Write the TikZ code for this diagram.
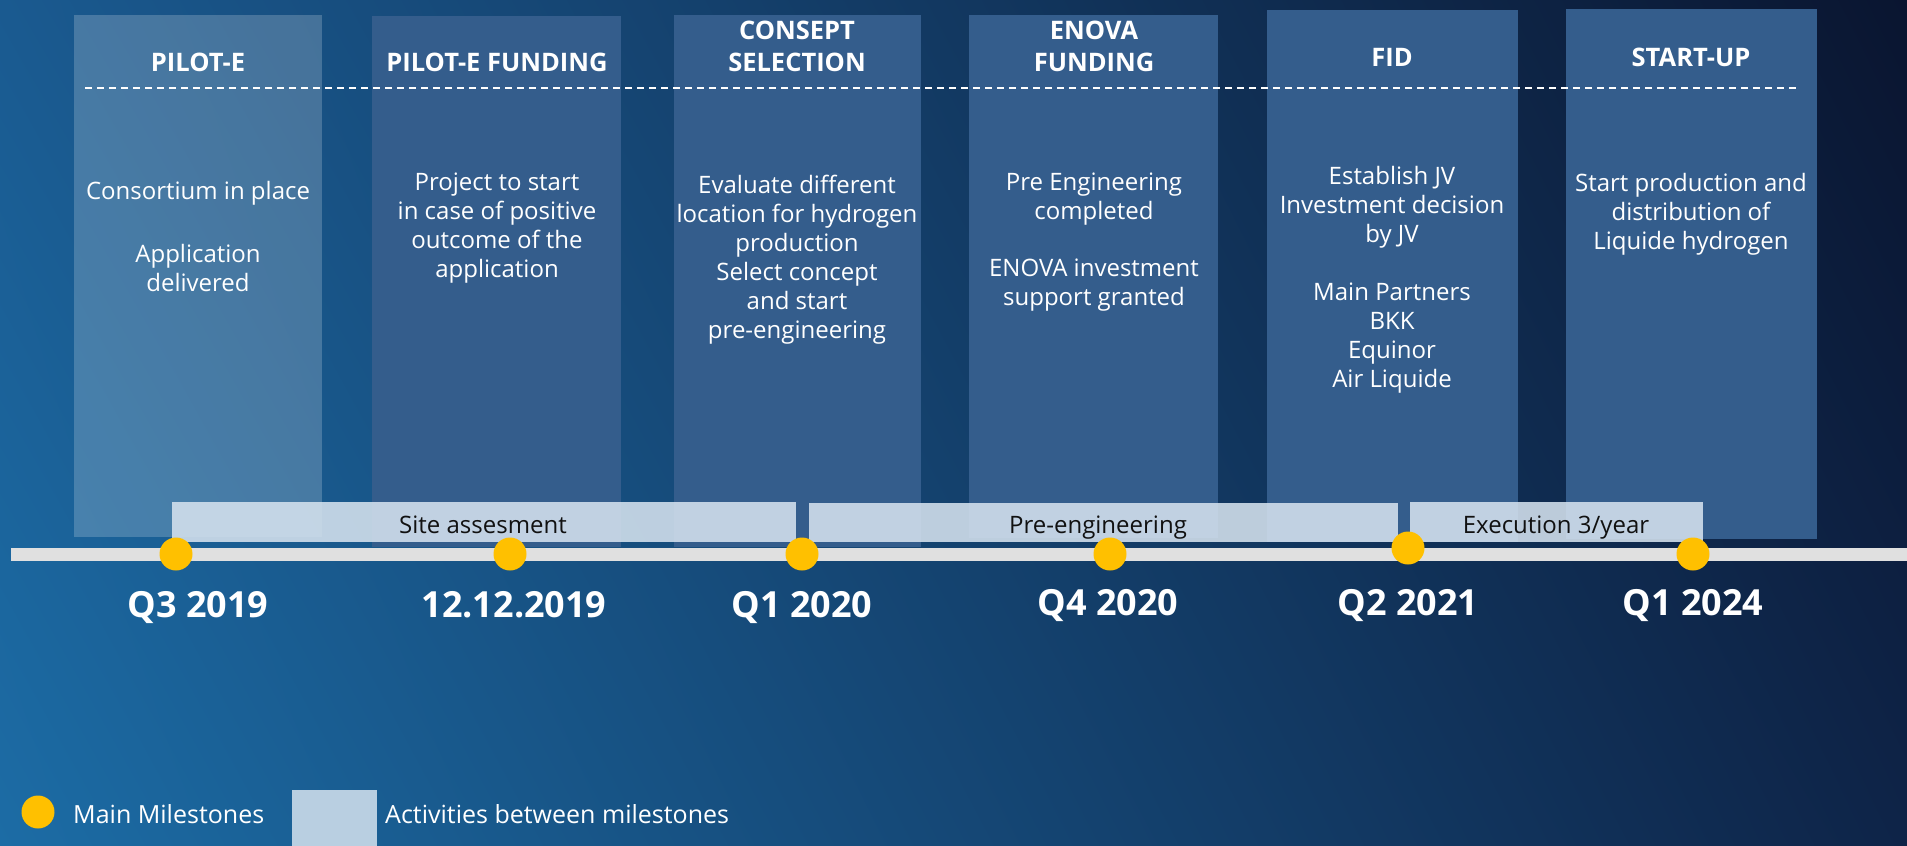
\documentclass[tikz,border=0pt]{standalone}
\usepackage{fontspec}
\setmainfont{Open Sans}
\usetikzlibrary{shadings}
\definecolor{bgUL}{HTML}{1A5A90}
\definecolor{bgLL}{HTML}{1C6CA5}
\definecolor{bgUR}{HTML}{0A1530}
\definecolor{bgLR}{HTML}{0E2448}
\definecolor{colblue}{HTML}{345D8C}
\definecolor{barfill}{HTML}{D5E2EE}
\definecolor{msyellow}{HTML}{FFC000}
\definecolor{linegray}{HTML}{E0E0E0}
\definecolor{textdark}{HTML}{111111}
\definecolor{legsq}{HTML}{B9CFE1}
\begin{document}
\begin{tikzpicture}[x=1pt,y=-1pt,
  colbox/.style={fill=colblue},
  firstbox/.style={fill=white, fill opacity=0.2},
  actbar/.style={fill=barfill, fill opacity=0.88},
  ttl/.style={text=white, font=\fontsize{25.5}{32}\selectfont\bfseries, align=center, inner sep=0pt},
  body/.style={text=white, font=\fontsize{24}{29}\selectfont, align=center, inner sep=0pt, anchor=north},
  datel/.style={text=white, font=\fontsize{36}{40}\selectfont\bfseries, anchor=base, inner sep=0pt},
  barlbl/.style={text=textdark, font=\fontsize{24}{29}\selectfont, anchor=base, inner sep=0pt},
  ms/.style={circle, fill=msyellow, minimum size=33pt, inner sep=0pt},
  leg/.style={text=white, font=\fontsize{25}{30}\selectfont, anchor=base west, inner sep=0pt},
  sep/.style={white, line width=2pt, dash pattern=on 7pt off 5pt}
]
\useasboundingbox (0,0) rectangle (1907,846);
\shade[upper left=bgUL, upper right=bgUR, lower left=bgLL, lower right=bgLR] (0,0) rectangle (1907,846);

% columns
\path[firstbox] (74,15) rectangle (322,537);
\path[colbox] (372,16) rectangle (621,547);
\path[colbox] (674,15) rectangle (921,547);
\path[colbox] (969,15) rectangle (1218,538);
\path[colbox] (1267,10) rectangle (1518,542);
\path[colbox] (1566,9) rectangle (1817,539);

% separator
\coordinate (sepL) at (85,88);
\coordinate (sepR) at (1798,88);
\draw[sep] (sepL) -- (sepR);

% titles
\node[ttl] (t1) at (198,62) {PILOT-E};
\node[ttl] (t2) at (497,62) {PILOT-E FUNDING};
\node[ttl] (t3) at (797,46) {CONSEPT\\SELECTION};
\node[ttl] (t4) at (1094,46) {ENOVA\\FUNDING};
\node[ttl] (t5) at (1392,57) {FID};
\node[ttl] (t6) at (1691,57) {START-UP};

% body texts
\node[body] (b1) at (198,181) {Consortium in place\\[34pt]Application\\delivered};
\node[body] (b2) at (497,173) {Project to start\\in case of positive\\outcome of the\\application};
\node[body] (b3) at (797,175) {Evaluate different\\location for hydrogen\\production\\Select concept\\and start\\pre-engineering};
\node[body] (b4) at (1094,173) {Pre Engineering\\completed\\[28pt]ENOVA investment\\support granted};
\node[body] (b5) at (1392,166) {Establish JV\\Investment decision\\by JV\\[29pt]Main Partners\\BKK\\Equinor\\Air Liquide};
\node[body] (b6) at (1691,173) {Start production and\\distribution of\\Liquide hydrogen};

% activity bars
\path[actbar] (172,502) rectangle (796,542);
\path[actbar] (809,503) rectangle (1398,542);
\path[actbar] (1410,502) rectangle (1703,542);
\node[barlbl] (a1) at (483,533) {Site assesment};
\node[barlbl] (a2) at (1098,533) {Pre-engineering};
\node[barlbl] (a3) at (1556,533) {Execution 3/year};

% timeline
\coordinate (tlL) at (11,548);
\coordinate (tlR) at (1907,561);
\fill[linegray] (tlL) rectangle (tlR);

% milestones
\node[ms] (m1) at (176,554) {};
\node[ms] (m2) at (510,554) {};
\node[ms] (m3) at (802,554) {};
\node[ms] (m4) at (1110,554) {};
\node[ms] (m5) at (1408,548) {};
\node[ms] (m6) at (1693,554) {};

% dates
\node[datel] (d1) at (198,617) {Q3 2019};
\node[datel] (d2) at (514,617) {12.12.2019};
\node[datel] (d3) at (802,617) {Q1 2020};
\node[datel] (d4) at (1108,615) {Q4 2020};
\node[datel] (d5) at (1408,615) {Q2 2021};
\node[datel] (d6) at (1693,615) {Q1 2024};

% legend
\node[ms] (lgdot) at (38,812) {};
\node[leg] (lgt1) at (73,823) {Main Milestones};
\fill[legsq] (292,790) rectangle (377,846);
\node[leg] (lgt2) at (385,823) {Activities between milestones};
\end{tikzpicture}
\end{document}
